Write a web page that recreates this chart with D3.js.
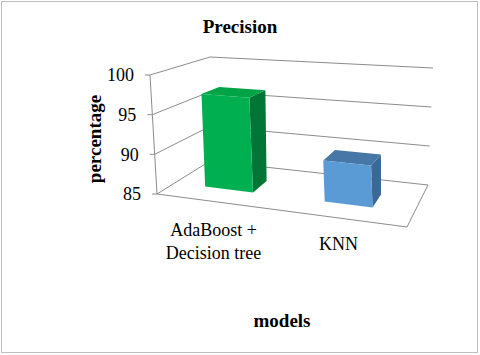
<!DOCTYPE html>
<html><head><meta charset="utf-8">
<script src="https://cdn.jsdelivr.net/npm/d3@7"></script>
<style>body{margin:0;background:#fff}svg{display:block}</style>
</head><body>
<svg id="c" width="480" height="355"></svg>
<script>
const categories = [["AdaBoost +","Decision tree"],["KNN"]];
const values = [97.0, 90.0];
const ticks = [85, 90, 95, 100];
const title = "Precision";
const yTitle = "percentage";
const xTitle = "models";

const W = 480, H = 355;
const FONT = "'Liberation Serif','Times New Roman',serif";
const svg = d3.select("#c");
svg.append("rect").attr("x",1.5).attr("y",1.5).attr("width",W-4).attr("height",H-4)
  .attr("fill","#fff").attr("stroke","#bfbfbf").attr("stroke-width",1);

// box corners (x,y,z) in unit cube -> screen
const C = {
  "000":[157,194], "010":[150,75], "100":[407,227], "110":[398,93],
  "001":[210,161], "011":[210,57], "101":[428,185], "111":[433,68]
};
function lerp(a,b,t){return [a[0]+(b[0]-a[0])*t, a[1]+(b[1]-a[1])*t];}
function P(x,y,z){
  const a = lerp(lerp(C["000"],C["100"],x), lerp(C["010"],C["110"],x), y);
  const b = lerp(lerp(C["001"],C["101"],x), lerp(C["011"],C["111"],x), y);
  return lerp(a,b,z);
}
const yS = d3.scaleLinear().domain([85,100]).range([0,1]);
const xS = d3.scaleBand().domain(d3.range(categories.length)).range([-0.024,0.976]).paddingInner(0.6).paddingOuter(0.3);
const line = d3.line();
const grid = "#8c8c8c";

const g = svg.append("g");
ticks.forEach(v=>{
  const y = yS(v);
  g.append("path").attr("d", line([P(0,y,0),P(0,y,1),P(1,y,1)]))
    .attr("fill","none").attr("stroke",grid).attr("stroke-width",1);
  const p = P(0,y,0);
  g.append("line").attr("x1",p[0]-5).attr("x2",p[0]).attr("y1",p[1]).attr("y2",p[1])
    .attr("stroke",grid);
  g.append("text").attr("x",p[0]-16).attr("y",p[1]).attr("dy","0.35em")
    .attr("text-anchor","end").attr("font-family",FONT)
    .attr("font-size",18).attr("fill","#000").text(v);
});
g.append("path").attr("d", line([P(0,0,0),P(0,1,0)])).attr("stroke",grid).attr("fill","none");
g.append("path").attr("d", line([P(0,0,0),P(1,0,0),P(1,0,1)])).attr("stroke",grid).attr("fill","none");

const colors = [
  {front:"#00B050", top:"#00A346", side:"#007535"},
  {front:"#5B9BD5", top:"#4677A6", side:"#3B6894"}
];
const z0 = 0.34, z1 = 0.66;
values.forEach((v,i)=>{
  const x0 = xS(i), x1 = xS(i)+xS.bandwidth(), yv = yS(v), col = colors[i];
  const poly = pts => "M"+pts.map(p=>p.join(",")).join("L")+"Z";
  g.append("path").attr("d", poly([P(x1,0,z0),P(x1,0,z1),P(x1,yv,z1),P(x1,yv,z0)])).attr("fill",col.side);
  g.append("path").attr("d", poly([P(x0,yv,z0),P(x1,yv,z0),P(x1,yv,z1),P(x0,yv,z1)])).attr("fill",col.top);
  g.append("path").attr("d", poly([P(x0,0,z0),P(x1,0,z0),P(x1,yv,z0),P(x0,yv,z0)])).attr("fill",col.front);
});

categories.forEach((lines,i)=>{
  const c = xS(i)+xS.bandwidth()/2;
  const cx = P(c,0,0)[0];
  const baseY = lines.length===1 ? 250 : 236;
  lines.forEach((t,j)=>{
    svg.append("text").attr("x",cx).attr("y",baseY+j*23).attr("text-anchor","middle")
      .attr("font-family",FONT).attr("font-size",18).attr("fill","#000").text(t);
  });
});

svg.append("text").attr("x",240).attr("y",33).attr("text-anchor","middle")
  .attr("font-family",FONT).attr("font-weight","bold").attr("font-size",19).text(title);
svg.append("text").attr("x",282).attr("y",327).attr("text-anchor","middle")
  .attr("font-family",FONT).attr("font-weight","bold").attr("font-size",19).text(xTitle);
svg.append("text").attr("transform","translate(101,139) rotate(-90)").attr("text-anchor","middle")
  .attr("font-family",FONT).attr("font-weight","bold").attr("font-size",19).text(yTitle);
</script>
</body></html>
